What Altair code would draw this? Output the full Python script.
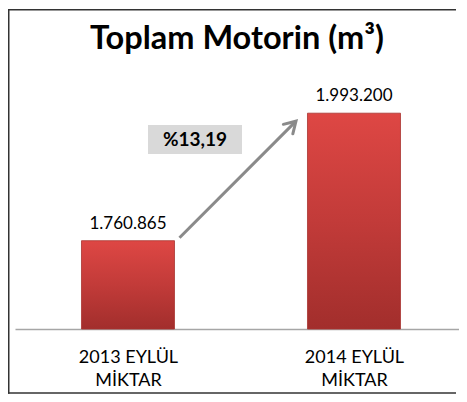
import altair as alt
import pandas as pd

# ---- data ----
categories = ["2013 EYLÜL|MİKTAR", "2014 EYLÜL|MİKTAR"]
values = [1760865, 1993200]
value_labels = ["1.760.865", "1.993.200"]
y_domain = [1600000, 2050000]
title_text = "Toplam Motorin (m³)"

pct = (values[1] / values[0] - 1) * 100
pct_label = "%" + f"{pct:.2f}".replace(".", ",")

bars_df = pd.DataFrame({"cat": categories, "value": values, "label": value_labels})
arrow_df = pd.DataFrame({
    "c1": [categories[0]], "c2": [categories[1]],
    "v1": [values[0]], "v2": [values[1]], "pct": [pct_label],
})

W, H = 444, 247
FONT = "Lato"
GRAY = "#8a8a8a"
FRAME = "#333333"

x_scale = alt.Scale(type="point", padding=0.4823, align=0.5183, domain=categories)
y_scale = alt.Scale(domain=y_domain, zero=False, nice=False)

x_axis = alt.Axis(
    title=None, labelExpr="split(datum.label, '|')", labelAngle=0,
    labelFont=FONT, labelFontSize=18, labelColor="#000000",
    labelPadding=19, labelLineHeight=23, ticks=False, grid=False,
    domainColor="#a6a6a6", domainWidth=1.5, labelOverlap=False,
)

base = alt.Chart(bars_df)
one = alt.Chart(arrow_df)

frame_left = one.mark_rule(color=FRAME, strokeWidth=1.5).encode(
    x=alt.value(-6.25), y=alt.value(-73), y2=alt.value(311.75),
)
frame_top = one.mark_rule(color=FRAME, strokeWidth=1.5).encode(
    x=alt.value(-7), x2=alt.value(W - 3), y=alt.value(-72.25),
)
frame_bottom = one.mark_rule(color=FRAME, strokeWidth=1.5).encode(
    x=alt.value(-7), x2=alt.value(W - 3), y=alt.value(311),
)

gradient = alt.Gradient(
    gradient="linear", x1=0, y1=0, x2=0, y2=1,
    stops=[alt.GradientStop(color="#de4744", offset=0),
           alt.GradientStop(color="#c23b39", offset=0.5),
           alt.GradientStop(color="#a22e2c", offset=1)],
)

bars = base.mark_bar(
    size=93, color=gradient, stroke="#a83330", strokeWidth=0.8
).encode(
    x=alt.X("cat:N", sort=categories, scale=x_scale, axis=x_axis),
    y=alt.Y("value:Q", scale=y_scale, axis=None),
    y2=alt.datum(y_domain[0]),
)

value_text = base.mark_text(
    dy=-12, baseline="alphabetic", font=FONT, fontSize=17, color="#000000"
).encode(
    x=alt.X("cat:N", sort=categories, scale=x_scale),
    y=alt.Y("value:Q", scale=y_scale),
    text="label:N",
)

arrow_line = one.mark_rule(
    color=GRAY, strokeWidth=3, xOffset=51.5, yOffset=-3, x2Offset=-58, y2Offset=8
).encode(
    x=alt.X("c1:N", scale=x_scale), x2="c2:N",
    y=alt.Y("v1:Q", scale=y_scale), y2="v2:Q",
)

arrow_head = one.mark_point(
    shape="M -0.6 1 L 0 0 L 0.6 1", angle=45, size=500, filled=False,
    stroke=GRAY, strokeWidth=3, opacity=1, xOffset=-58, yOffset=8,
    strokeCap="round", strokeJoin="miter",
).encode(
    x=alt.X("c2:N", scale=x_scale),
    y=alt.Y("v2:Q", scale=y_scale),
)

pct_box = one.mark_rect(
    color="#d9d9d9", xOffset=20, x2Offset=114
).encode(
    x=alt.X("c1:N", scale=x_scale), x2="c1:N",
    y=alt.value(43), y2=alt.value(72),
)

pct_text = one.mark_text(
    font=FONT, fontSize=19, fontWeight="bold", color="#000000",
    baseline="middle", align="center", xOffset=67,
).encode(
    x=alt.X("c1:N", scale=x_scale),
    y=alt.value(57.5),
    text="pct:N",
)

chart = alt.layer(
    frame_left, frame_top, frame_bottom, bars, value_text,
    arrow_line, arrow_head, pct_box, pct_text
).properties(
    width=W, height=H,
    title=alt.TitleParams(
        title_text, font=FONT, fontSize=32.5, fontWeight="bold", color="#000000",
        anchor="middle", baseline="alphabetic", offset=-73.5, frame="group",
    ),
    autosize=alt.AutoSizeParams(type="none"),
    padding={"left": 7, "top": 74, "right": 0, "bottom": 65},
    background="#ffffff",
).configure_view(stroke=None)

chart.save("out.html", embed_options={"renderer": "svg", "actions": False})
